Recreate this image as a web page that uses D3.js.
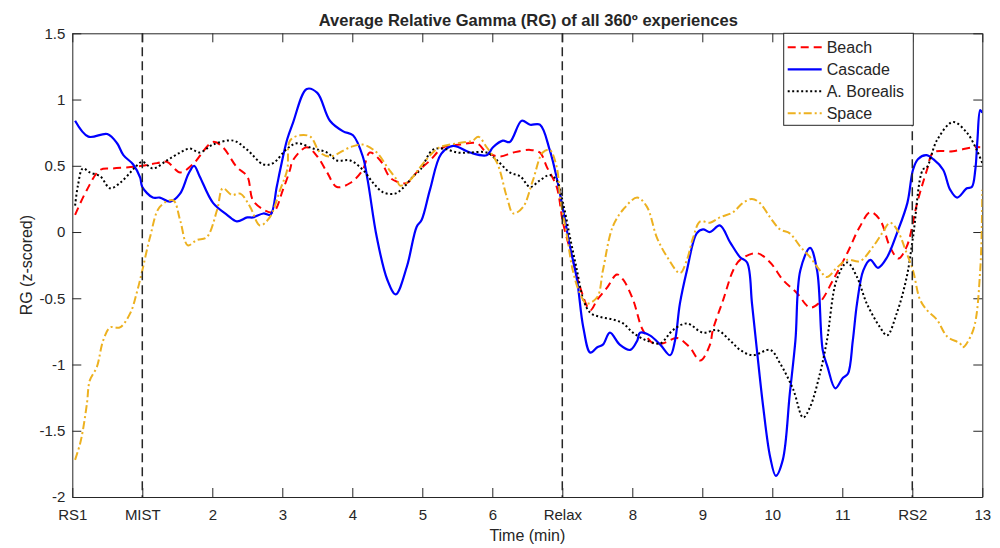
<!DOCTYPE html>
<html>
<head>
<meta charset="utf-8">
<script src="https://cdn.jsdelivr.net/npm/d3@7"></script>
<style>
  body { margin: 0; background: #fff; }
  text { font-family: "Liberation Sans", Arial, sans-serif; fill: #262626; }
</style>
</head>
<body>
<svg id="chart" width="1000" height="548"></svg>
<script>
// x ticks (minutes) and their labels
const xTicks = [0, 1, 2, 3, 4, 5, 6, 7, 8, 9, 10, 11, 12, 13];
const xTickLabels = ['RS1', 'MIST', '2', '3', '4', '5', '6', 'Relax', '8', '9', '10', '11', 'RS2', '13'];
const yTicks = [-2, -1.5, -1, -0.5, 0, 0.5, 1, 1.5];
const phaseLines = [1, 7, 12];
const seriesNames = ['Beach', 'Cascade', 'A. Borealis', 'Space'];

// [time (min), RG z-score]
const beach = [
  [0.04, 0.13], [0.21, 0.32], [0.4, 0.47], [0.58, 0.48], [0.83, 0.49], [1.0, 0.5], [1.21, 0.52],
  [1.35, 0.53], [1.54, 0.45], [1.72, 0.51], [2.01, 0.68], [2.15, 0.64], [2.35, 0.49], [2.5, 0.42],
  [2.58, 0.24], [2.73, 0.17], [2.87, 0.15], [3.01, 0.32], [3.11, 0.47], [3.15, 0.54], [3.35, 0.64],
  [3.5, 0.57], [3.64, 0.45], [3.78, 0.34], [3.97, 0.37], [4.15, 0.47], [4.25, 0.6], [4.4, 0.54],
  [4.54, 0.41], [4.64, 0.38], [4.78, 0.37], [4.92, 0.45], [5.11, 0.54], [5.3, 0.64], [5.54, 0.66],
  [5.78, 0.67], [5.92, 0.6], [6.11, 0.57], [6.3, 0.6], [6.54, 0.62], [6.68, 0.6], [6.78, 0.49],
  [6.92, 0.34], [7.01, 0.07], [7.15, -0.21], [7.25, -0.41], [7.4, -0.59], [7.5, -0.51], [7.64, -0.42],
  [7.78, -0.32], [7.87, -0.36], [8.01, -0.51], [8.15, -0.74], [8.3, -0.84], [8.44, -0.84],
  [8.64, -0.8], [8.82, -0.87], [8.97, -0.97], [9.11, -0.85], [9.15, -0.74], [9.3, -0.51],
  [9.44, -0.29], [9.54, -0.21], [9.78, -0.16], [9.97, -0.23], [10.15, -0.36], [10.35, -0.46],
  [10.54, -0.57], [10.68, -0.53], [10.87, -0.36], [11.07, -0.16], [11.25, 0.04], [11.4, 0.15],
  [11.54, 0.09], [11.68, -0.11], [11.8, -0.2], [11.92, -0.11], [12.07, 0.22], [12.21, 0.47],
  [12.3, 0.6], [12.58, 0.61], [12.87, 0.64], [12.97, 0.64]
];

const cascade = [
  [0.04, 0.84], [0.23, 0.72], [0.5, 0.74], [0.64, 0.67], [0.73, 0.58], [0.87, 0.51], [0.97, 0.41],
  [1.0, 0.34], [1.15, 0.26], [1.25, 0.26], [1.4, 0.23], [1.54, 0.29], [1.66, 0.44], [1.74, 0.5],
  [1.82, 0.42], [2.01, 0.22], [2.21, 0.13], [2.35, 0.08], [2.5, 0.11], [2.58, 0.11], [2.73, 0.14],
  [2.83, 0.13], [2.92, 0.34], [2.97, 0.47], [3.07, 0.7], [3.15, 0.82], [3.35, 1.08], [3.5, 1.05],
  [3.68, 0.84], [3.87, 0.76], [4.01, 0.73], [4.15, 0.57], [4.22, 0.39], [4.35, -0.04], [4.5, -0.36],
  [4.62, -0.47], [4.78, -0.26], [4.92, 0.04], [4.99, 0.09], [5.11, 0.32], [5.27, 0.59], [5.44, 0.65],
  [5.68, 0.6], [5.92, 0.58], [6.01, 0.64], [6.15, 0.69], [6.25, 0.68], [6.42, 0.84], [6.54, 0.81],
  [6.68, 0.81], [6.82, 0.62], [6.92, 0.41], [7.01, 0.17], [7.11, -0.11], [7.21, -0.36], [7.3, -0.72],
  [7.4, -0.91], [7.5, -0.87], [7.58, -0.85], [7.68, -0.76], [7.82, -0.85], [7.97, -0.89],
  [8.07, -0.82], [8.11, -0.76], [8.25, -0.78], [8.4, -0.85], [8.54, -0.93], [8.61, -0.82],
  [8.68, -0.54], [8.78, -0.29], [8.92, -0.01], [9.01, 0.02], [9.11, 0.0], [9.25, 0.05],
  [9.4, -0.08], [9.54, -0.19], [9.64, -0.23], [9.71, -0.54], [9.78, -0.89], [9.87, -1.32],
  [9.97, -1.7], [10.05, -1.84], [10.15, -1.72], [10.25, -1.22], [10.33, -0.82], [10.4, -0.29],
  [10.54, -0.12], [10.64, -0.29], [10.72, -0.89], [10.79, -1.02], [10.9, -1.18], [11.01, -1.1],
  [11.08, -1.07], [11.15, -0.82], [11.21, -0.54], [11.3, -0.29], [11.4, -0.21], [11.51, -0.27],
  [11.64, -0.19], [11.78, -0.01], [11.93, 0.22], [12.01, 0.47], [12.08, 0.55], [12.2, 0.58],
  [12.3, 0.55], [12.44, 0.47], [12.54, 0.32], [12.64, 0.26], [12.78, 0.33], [12.85, 0.34],
  [12.9, 0.47], [12.93, 0.69], [12.97, 0.92], [13.0, 0.9]
];

const borealis = [
  [0.04, 0.2], [0.08, 0.35], [0.15, 0.48], [0.25, 0.45], [0.4, 0.42], [0.54, 0.33], [0.68, 0.37],
  [0.83, 0.45], [0.9, 0.49], [1.0, 0.53], [1.15, 0.48], [1.35, 0.54], [1.54, 0.6], [1.68, 0.63],
  [1.82, 0.6], [2.01, 0.66], [2.3, 0.69], [2.5, 0.62], [2.73, 0.51], [2.87, 0.52], [3.07, 0.63],
  [3.21, 0.67], [3.44, 0.63], [3.64, 0.6], [3.78, 0.54], [3.97, 0.54], [4.15, 0.47], [4.3, 0.37],
  [4.44, 0.3], [4.61, 0.29], [4.72, 0.33], [4.87, 0.42], [4.97, 0.47], [5.15, 0.62], [5.3, 0.63],
  [5.5, 0.6], [5.68, 0.6], [5.92, 0.6], [6.07, 0.54], [6.25, 0.45], [6.4, 0.42], [6.54, 0.34],
  [6.68, 0.39], [6.82, 0.43], [6.92, 0.39], [7.01, 0.22], [7.11, -0.04], [7.21, -0.29],
  [7.3, -0.51], [7.4, -0.61], [7.54, -0.64], [7.72, -0.66], [7.87, -0.69], [8.01, -0.76],
  [8.21, -0.82], [8.4, -0.84], [8.58, -0.74], [8.78, -0.69], [9.01, -0.76], [9.21, -0.74],
  [9.4, -0.82], [9.54, -0.89], [9.72, -0.93], [9.97, -0.89], [10.11, -0.99], [10.3, -1.19],
  [10.44, -1.4], [10.54, -1.32], [10.68, -1.07], [10.78, -0.82], [10.92, -0.36], [11.07, -0.23],
  [11.21, -0.34], [11.35, -0.54], [11.54, -0.72], [11.64, -0.78], [11.78, -0.61], [11.92, -0.34],
  [12.01, -0.04], [12.15, 0.47], [12.21, 0.49], [12.35, 0.69], [12.58, 0.83], [12.78, 0.75],
  [12.92, 0.62], [13.0, 0.52]
];

const space = [
  [0.04, -1.72], [0.11, -1.6], [0.15, -1.5], [0.21, -1.29], [0.25, -1.12], [0.35, -1.02],
  [0.44, -0.82], [0.54, -0.72], [0.68, -0.72], [0.83, -0.61], [0.92, -0.46], [1.0, -0.29],
  [1.11, -0.04], [1.25, 0.19], [1.44, 0.24], [1.54, 0.09], [1.65, -0.1], [1.78, -0.06],
  [1.92, -0.04], [2.07, 0.17], [2.15, 0.33], [2.28, 0.28], [2.4, 0.29], [2.54, 0.19], [2.68, 0.05],
  [2.82, 0.11], [2.97, 0.32], [3.07, 0.47], [3.11, 0.69], [3.25, 0.73], [3.4, 0.72], [3.54, 0.6],
  [3.68, 0.57], [3.97, 0.64], [4.15, 0.66], [4.35, 0.6], [4.5, 0.49], [4.64, 0.39], [4.68, 0.35],
  [4.82, 0.39], [4.97, 0.49], [5.15, 0.6], [5.25, 0.64], [5.5, 0.67], [5.72, 0.69], [5.8, 0.72],
  [5.92, 0.64], [6.07, 0.52], [6.21, 0.26], [6.3, 0.14], [6.44, 0.19], [6.58, 0.39], [6.72, 0.6],
  [6.82, 0.62], [6.92, 0.49], [6.97, 0.26], [7.07, -0.04], [7.15, -0.29], [7.25, -0.46],
  [7.35, -0.54], [7.5, -0.49], [7.58, -0.29], [7.72, 0.04], [7.87, 0.17], [8.07, 0.26],
  [8.21, 0.19], [8.35, -0.04], [8.5, -0.19], [8.68, -0.31], [8.78, -0.21], [8.87, -0.04],
  [8.97, 0.08], [9.11, 0.07], [9.25, 0.11], [9.44, 0.15], [9.58, 0.22], [9.71, 0.25],
  [9.82, 0.22], [9.97, 0.11], [10.11, 0.02], [10.25, -0.01], [10.4, -0.11], [10.54, -0.19],
  [10.68, -0.29], [10.78, -0.34], [10.92, -0.27], [11.07, -0.21], [11.25, -0.22], [11.44, -0.11],
  [11.58, 0.0], [11.68, 0.07], [11.78, 0.02], [11.92, -0.16], [12.01, -0.29], [12.11, -0.51],
  [12.21, -0.59], [12.35, -0.66], [12.5, -0.79], [12.68, -0.84], [12.72, -0.87], [12.87, -0.74],
  [12.97, -0.29], [13.0, 0.32]
];

const allSeries = [beach, cascade, borealis, space];
const colors = ['#ff0000', '#0000ff', '#000000', '#EDB120'];
const dashes = ['8,5', null, '2,2.5', '8,3,2,3'];
const widths = [2, 2.2, 2, 2];

const margin = { top: 33.3, right: 17.7, bottom: 51, left: 72.3 };
const width = 1000 - margin.left - margin.right;
const height = 548 - margin.top - margin.bottom;

const svg = d3.select('#chart');
const g = svg.append('g').attr('transform', `translate(${margin.left},${margin.top})`);

const x = d3.scaleLinear().domain([0, 13]).range([0, width]);
const y = d3.scaleLinear().domain([-2, 1.5]).range([height, 0]);

const defs = svg.append('defs');
defs.append('clipPath').attr('id', 'clip')
  .append('rect').attr('width', width).attr('height', height);

// axes (MATLAB style: ticks inward, box on)
const tickLen = 9;
const xAxis = g.append('g').attr('transform', `translate(0,${height})`)
  .call(d3.axisBottom(x).tickValues(xTicks).tickFormat((d, i) => xTickLabels[i])
    .tickSizeInner(-tickLen).tickSizeOuter(0).tickPadding(12));
const yAxis = g.append('g')
  .call(d3.axisLeft(y).tickValues(yTicks).tickFormat(d => String(d)).tickSizeInner(-tickLen)
    .tickSizeOuter(0).tickPadding(7));
const xTop = g.append('g')
  .call(d3.axisTop(x).tickValues(xTicks).tickFormat('').tickSizeInner(-tickLen).tickSizeOuter(0));
const yRight = g.append('g').attr('transform', `translate(${width},0)`)
  .call(d3.axisRight(y).tickValues(yTicks).tickFormat('').tickSizeInner(-tickLen).tickSizeOuter(0));

[xAxis, yAxis, xTop, yRight].forEach(a => {
  a.selectAll('path, line').attr('stroke', '#262626').attr('stroke-width', 1);
  a.selectAll('text').style('font-size', '15px').attr('fill', '#262626')
    .style('font-family', '"Liberation Sans", Arial, sans-serif');
});

// series
const line = d3.line()
  .x(d => x(d[0]))
  .y(d => y(d[1]))
  .curve(d3.curveCatmullRom.alpha(0.5));

const plot = g.append('g').attr('clip-path', 'url(#clip)');
allSeries.forEach((s, i) => {
  plot.append('path')
    .datum(s)
    .attr('fill', 'none')
    .attr('stroke', colors[i])
    .attr('stroke-width', widths[i])
    .attr('stroke-dasharray', dashes[i])
    .attr('d', line);
});

// phase markers
g.selectAll('.phase')
  .data(phaseLines)
  .enter()
  .append('line')
  .attr('class', 'phase')
  .attr('x1', d => x(d)).attr('x2', d => x(d))
  .attr('y1', 0).attr('y2', height)
  .attr('stroke', '#262626')
  .attr('stroke-width', 1.5)
  .attr('stroke-dasharray', '9,5');

// title and labels
svg.append('text')
  .attr('x', margin.left + width / 2 + 1)
  .attr('y', 26)
  .attr('text-anchor', 'middle')
  .style('font-size', '16.5px')
  .style('font-weight', 'bold')
  .attr('fill', '#000')
  .text('Average Relative Gamma (RG) of all 360º experiences');

svg.append('text')
  .attr('x', margin.left + width / 2)
  .attr('y', 541)
  .attr('text-anchor', 'middle')
  .style('font-size', '16px')
  .text('Time (min)');

svg.append('text')
  .attr('transform', `translate(32,${margin.top + height / 2}) rotate(-90)`)
  .attr('text-anchor', 'middle')
  .style('font-size', '16px')
  .text('RG (z-scored)');

// legend
const lg = g.append('g').attr('transform', `translate(${711.4},0)`);
lg.append('rect')
  .attr('width', 129.6).attr('height', 92)
  .attr('fill', '#fff')
  .attr('stroke', '#262626')
  .attr('stroke-width', 1);
seriesNames.forEach((name, i) => {
  const yy = 14 + i * 22;
  lg.append('line')
    .attr('x1', 4).attr('x2', 38)
    .attr('y1', yy).attr('y2', yy)
    .attr('stroke', colors[i])
    .attr('stroke-width', widths[i])
    .attr('stroke-dasharray', dashes[i]);
  lg.append('text')
    .attr('x', 43).attr('y', yy + 6)
    .style('font-size', '16px')
    .attr('fill', '#000')
    .text(name);
});
</script>
</body>
</html>
